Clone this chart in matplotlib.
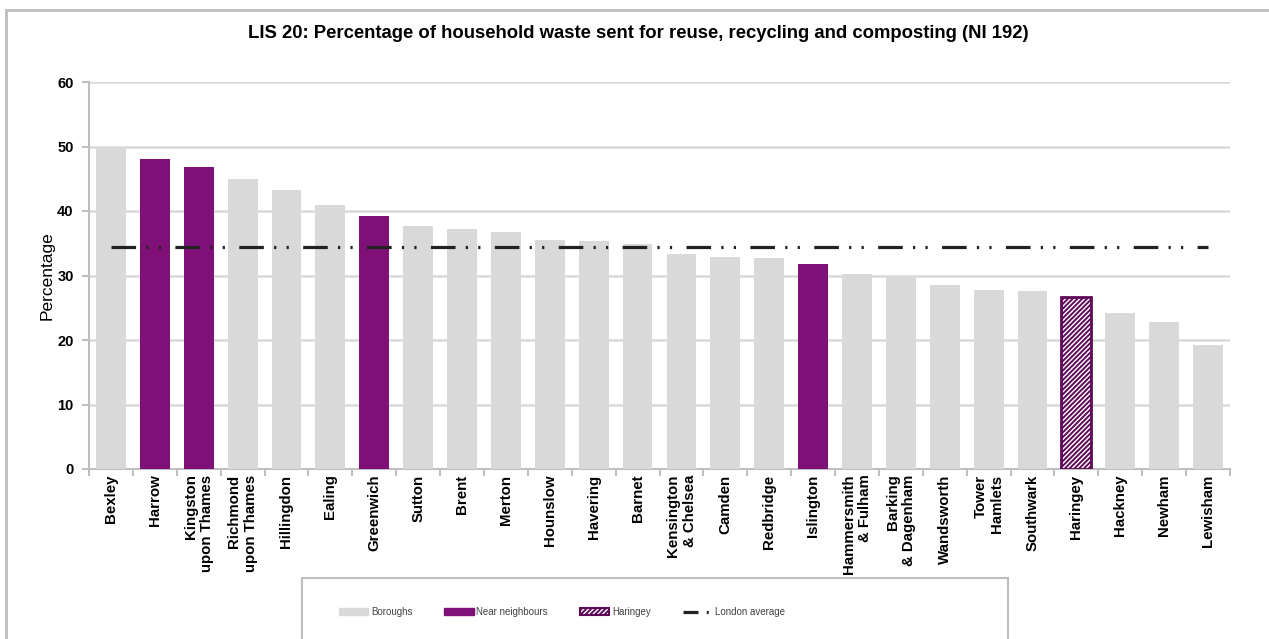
import matplotlib
matplotlib.use('Agg')
import matplotlib.pyplot as plt
from matplotlib.patches import Patch, Rectangle
from matplotlib.lines import Line2D

# boroughs ordered by recycling rate
boroughs = ['Bexley', 'Harrow', 'Kingston\nupon Thames', 'Richmond\nupon Thames',
            'Hillingdon', 'Ealing', 'Greenwich', 'Sutton', 'Brent', 'Merton',
            'Hounslow', 'Havering', 'Barnet', 'Kensington\n& Chelsea', 'Camden',
            'Redbridge', 'Islington', 'Hammersmith\n& Fulham', 'Barking\n& Dagenham',
            'Wandsworth', 'Tower\nHamlets', 'Southwark', 'Haringey', 'Hackney',
            'Newham', 'Lewisham']
pct = [49.8, 48.0, 46.8, 45.0, 43.2, 41.0, 39.2, 37.6, 37.2, 36.7,
       35.5, 35.4, 34.9, 33.4, 32.9, 32.7, 31.8, 30.2, 29.7, 28.5,
       27.7, 27.6, 26.6, 24.2, 22.8, 19.2]
near_neighbours = ['Harrow', 'Kingston\nupon Thames', 'Greenwich', 'Islington']
highlight = 'Haringey'
london_avg = 34.4

GREY = '#d9d9d9'
PURPLE = '#7f1078'
DARK_PURPLE = '#5e0a58'
AXIS_GREY = '#bfbfbf'

plt.rcParams['font.family'] = ['Liberation Sans', 'DejaVu Sans']
plt.rcParams['hatch.linewidth'] = 1.4

fig = plt.figure(figsize=(12.69, 6.39), dpi=100)
ax = fig.add_axes([89 / 1269, 1 - 469 / 639, (1230 - 89) / 1269, (469 - 82) / 639])

x = list(range(len(boroughs)))
for i, (name, v) in enumerate(zip(boroughs, pct)):
    if name == highlight:
        ax.bar(i, v, width=0.68, facecolor='white', edgecolor=DARK_PURPLE,
               hatch='///////', linewidth=2, zorder=3)
    elif name in near_neighbours:
        ax.bar(i, v, width=0.68, color=PURPLE, zorder=3)
    else:
        ax.bar(i, v, width=0.68, color=GREY, zorder=3)

avg_style = (0, (7.7, 3.2, 0.7, 3.2, 0.7, 4.5))
ax.plot([0, len(boroughs) - 1], [london_avg, london_avg], color='#222222',
        lw=2.3, linestyle=avg_style, zorder=4)

ax.set_xlim(-0.5, len(boroughs) - 0.5)
ax.set_ylim(0, 60)
ax.set_yticks(range(0, 61, 10))
ax.yaxis.grid(True, color=GREY, lw=1.8, zorder=0)
ax.set_axisbelow(True)

ax.set_xticks(x)
ax.set_xticklabels(boroughs, rotation=90, fontweight='bold', fontsize=10.8,
                   va='top', ha='center', multialignment='right')
ax.set_xticks([i - 0.5 for i in range(len(boroughs) + 1)], minor=True)
ax.tick_params(axis='x', which='major', length=0, pad=4)
ax.tick_params(axis='x', which='minor', length=5, width=1.5, color=AXIS_GREY, direction='out')
ax.tick_params(axis='y', length=5, width=1.5, color=AXIS_GREY, labelsize=10.5, pad=6)
for lbl in ax.get_yticklabels():
    lbl.set_fontweight('bold')

for side in ('top', 'right'):
    ax.spines[side].set_visible(False)
for side in ('left', 'bottom'):
    ax.spines[side].set_color(AXIS_GREY)
    ax.spines[side].set_linewidth(1.5)

ax.set_ylabel('Percentage', fontsize=12.5, labelpad=2)

fig.text(638 / 1269, 1 - 34 / 639,
         'LIS 20: Percentage of household waste sent for reuse, recycling and composting (NI 192)',
         ha='center', va='center', fontsize=13.3, fontweight='bold')

# outer chart frame and legend frame
fig.add_artist(Rectangle((6 / 1269, -0.05), 1.2, 1 - 10 / 639 + 0.05, transform=fig.transFigure,
                         fill=False, edgecolor='#bdbdbd', lw=2))
fig.add_artist(Rectangle((302 / 1269, -0.05), (1008 - 302) / 1269, 1 - 578 / 639 + 0.05,
                         transform=fig.transFigure, fill=False, edgecolor='#bdbdbd', lw=1.5))

handles = [
    Patch(facecolor=GREY, edgecolor=GREY),
    Patch(facecolor=PURPLE, edgecolor=PURPLE),
    Patch(facecolor='white', edgecolor=DARK_PURPLE, hatch='///////', lw=1.5),
    Line2D([0], [0], color='#222222', lw=2.3, linestyle=(0, (4.7, 2.6, 0.6, 100))),
]
labels = ['Boroughs', 'Near neighbours', 'Haringey', 'London average']
leg = fig.legend(handles, labels, loc='center left', bbox_to_anchor=(330 / 1269, 1 - 612 / 639),
                 ncol=4, frameon=False, fontsize=7, handlelength=3.0, handleheight=0.65,
                 handletextpad=0.3, columnspacing=3.3)
for t in leg.get_texts():
    t.set_color('#404040')

fig.savefig('out.png', dpi=100)
